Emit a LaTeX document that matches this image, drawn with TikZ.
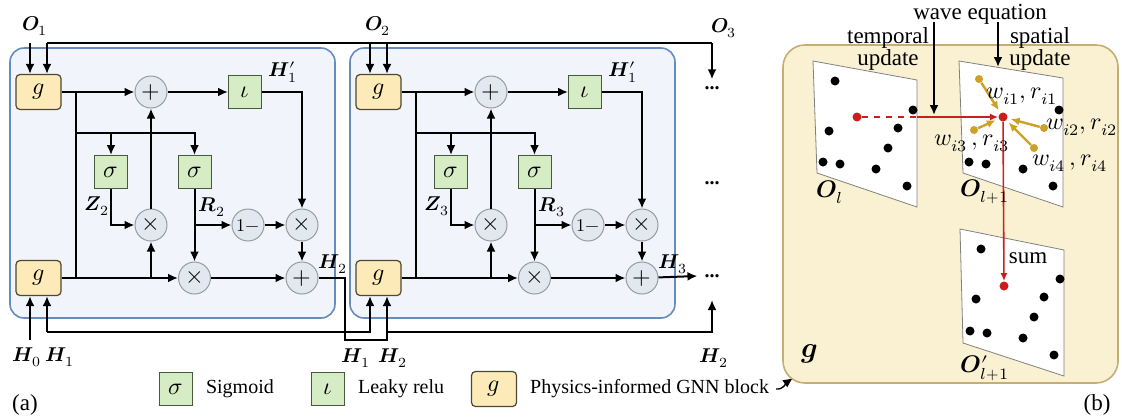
\documentclass[tikz,border=0pt]{standalone}
\usepackage{fontspec}
\usepackage{unicode-math}
\setmainfont{Liberation Serif}
\newfontfamily\scrA{DejaVu Sans}
\newcommand{\gnnsym}{\mbox{\scrA\iffontchar\font"210A ℊ\else\large$g$\fi}}
\usetikzlibrary{arrows.meta,positioning}

\definecolor{cellblue}{RGB}{102,140,190}
\definecolor{cellfill}{RGB}{241,245,251}
\definecolor{gatefill}{RGB}{213,236,196}
\definecolor{gatedraw}{RGB}{70,90,60}
\definecolor{gnnfill}{RGB}{252,234,184}
\definecolor{gnndraw}{RGB}{80,70,50}
\definecolor{opfill}{RGB}{226,232,240}
\definecolor{opdraw}{RGB}{150,155,160}
\definecolor{panelfill}{RGB}{249,241,210}
\definecolor{paneldraw}{RGB}{195,175,115}
\definecolor{wavered}{RGB}{205,30,30}
\definecolor{nbgold}{RGB}{205,160,40}

\tikzset{
  arr/.style={line width=1pt,-{Latex[length=5pt,width=4.5pt]}},
  wire/.style={line width=1pt},
  gnn/.style={draw=gnndraw,fill=gnnfill,rounded corners=2pt,minimum width=22.5pt,
    minimum height=17.5pt,inner sep=0pt,line width=0.6pt},
  gate/.style={draw=gatedraw,fill=gatefill,minimum size=16.5pt,inner sep=0pt,line width=0.5pt},
  op/.style={circle,draw=opdraw,fill=opfill,minimum size=16pt,inner sep=0pt,line width=0.5pt},
  cell/.style={draw=cellblue,fill=cellfill,rounded corners=7pt,line width=0.8pt},
  panel/.style={draw=paneldraw,fill=panelfill,rounded corners=11pt,line width=0.8pt},
  plane/.style={draw=gray,fill=white,line width=0.4pt},
  pt/.style={circle,fill=black,inner sep=0pt,minimum size=4.5pt},
  reddot/.style={circle,fill=wavered,inner sep=0pt,minimum size=4.5pt},
  golddot/.style={circle,fill=nbgold,inner sep=0pt,minimum size=4pt},
  redarr/.style={draw=wavered,line width=0.8pt,-{Latex[length=4pt,width=3.5pt]}},
  goldarr/.style={draw=nbgold,line width=1.2pt,-{Latex[length=4.5pt,width=4pt]},shorten >=1.5pt},
  big/.style={font=\fontsize{11.5}{9}\selectfont},
  lbl/.style={inner sep=1pt},
}

\begin{document}
\begin{tikzpicture}[x=0.5pt,y=-0.5pt]
  \useasboundingbox (0,0) rectangle (1122,419);

  % the two recurrent cells
  \foreach \k/\dx/\n in {1/0/2,2/340/3}{
    \begin{scope}[shift={(\dx,0)}]
      \draw[cell] (10,48) rectangle (335,318);
      \node[gnn]  (gt\k) at (38.5,92)  {\gnnsym};
      \node[gnn]  (gb\k) at (38.5,278) {\gnnsym};
      \node[op]   (pl\k) at (151,92)   {\large$+$};
      \node[gate] (lr\k) at (245,92)   {\large$\iota$};
      \node[gate] (sz\k) at (111,172)  {\large$\sigma$};
      \node[gate] (sr\k) at (194.5,172) {\large$\sigma$};
      \node[op]   (mz\k) at (151,225)  {\large$\times$};
      \node[op]   (om\k) at (248,225)  {\small$1-$};
      \node[op]   (mr\k) at (302,225)  {\large$\times$};
      \node[op]   (mb\k) at (194.5,278) {\large$\times$};
      \node[op]   (pb\k) at (302,278)  {\large$+$};
      \coordinate (jt\k) at (76,92);
      \coordinate (jb\k) at (76,278);
      \coordinate (js\k) at (76,133);
      \coordinate (jz\k) at (151,278);
      \coordinate (jr\k) at (194.5,225);
      % gate wiring
      \draw[arr] (gt\k) -- (pl\k);
      \draw[arr] (pl\k) -- (lr\k);
      \draw[arr] (lr\k.east) -| (mr\k.north);
      \draw[wire] (jt\k) -- (jb\k);
      \draw[arr] (js\k) -| (sz\k.north);
      \draw[arr] (js\k) -| (sr\k.north);
      \draw[arr] (sz\k.south) |- (mz\k.west);
      \draw[arr] (mz\k) -- (pl\k);
      \draw[arr] (jz\k) -- (mz\k);
      \draw[arr] (sr\k) -- (mb\k);
      \draw[arr] (jr\k) -- (om\k);
      \draw[arr] (om\k) -- (mr\k);
      \draw[arr] (mr\k) -- (pb\k);
      \draw[arr] (gb\k) -- (mb\k);
      \draw[arr] (mb\k) -- (pb\k);
      \node[lbl] (hp\k) at (283,72)  {$\symbfit{H}_1'$};
      \node[lbl] (z\k)  at (97,206)  {$\symbfit{Z}_\n$};
      \node[lbl] (r\k)  at (212,207) {$\symbfit{R}_\n$};
      \node[lbl] (ho\k) at (333,264) {$\symbfit{H}_\n$};
      \coordinate (gt\k l) at ([xshift=-4.25pt]gt\k.north);
      \coordinate (gt\k r) at ([xshift=4.25pt]gt\k.north);
      \coordinate (gb\k l) at ([xshift=-4.25pt]gb\k.south);
      \coordinate (gb\k r) at ([xshift=4.25pt]gb\k.south);
    \end{scope}
  }

  % inputs on top
  \coordinate (tb) at (0,43);
  \node (o1) at (35,26)  {$\symbfit{O}_1$};
  \node (o2) at (378,26) {$\symbfit{O}_2$};
  \node (o3) at (724,28) {$\symbfit{O}_3$};
  \coordinate (o3a) at (712,43);
  \node (d1) at (712,88)  {\textbf{...}};
  \node (d2) at (712,183) {\textbf{...}};
  \node (d3) at (712,276) {\textbf{...}};
  \draw[arr] (gt1l |- o1.south) -- (gt1l);
  \draw[arr] (gt2l |- o2.south) -- (gt2l);
  \draw[wire] (gt1r |- tb) -- (o3a);
  \draw[arr] (gt1r |- tb) -- (gt1r);
  \draw[arr] (gt2r |- tb) -- (gt2r);
  \draw[arr] (o3a) -- (d1.north);

  % hidden states below
  \coordinate (lb) at (0,332);
  \coordinate (k1) at (345,340);
  \coordinate (e3) at (712,300);
  \node (h0)  at (27,357)  {$\symbfit{H}_0$};
  \node (h1)  at (60,357)  {$\symbfit{H}_1$};
  \node (h1b) at (356,358) {$\symbfit{H}_1$};
  \node (h2b) at (393,358) {$\symbfit{H}_2$};
  \node (h2r) at (714,358) {$\symbfit{H}_2$};
  \draw[arr] (gb1l |- h0.north) -- (gb1l);
  \draw[arr] (gb1r |- lb) -- (gb1r);
  \draw[arr] (gb1r |- lb) -| (gb2l);
  \draw[arr] (pb1) -| (k1) -| (gb2r);
  \draw[arr] (gb2r |- lb) -| (e3);
  \draw[arr] (pb2) -- (d3.west);

  % legend
  \node[gate] (lsig) at (176,389) {\large$\sigma$};
  \node[right=3pt of lsig] (tsig) {Sigmoid};
  \node[gate] (lrel) at (328,389) {\large$\iota$};
  \node[right=3pt of lrel] (trel) {Leaky relu};
  \node[gnn]  (lgnn) at (494,389) {\gnnsym};
  \node[right=3pt of lgnn] (tgnn) {Physics-informed GNN block};
  \coordinate (pc) at (793,378);
  \draw[line width=0.7pt,-{Latex[length=5pt,width=4.5pt]}] (tgnn.east) to[out=-5,in=215] (pc);
  \node[big] (la) at (25,405) {(a)};
  \node[big] (lb2) at (1097,405) {(b)};

  % the GNN block
  \draw[panel] (783,45) rectangle (1118,383);
  \draw[plane] (813,61) -- (917,80) -- (917,207) -- (817,173) -- cycle;
  \draw[plane] (959,61) -- (1063,78) -- (1063,207) -- (963,173) -- cycle;
  \draw[plane] (960,229) -- (1064,250) -- (1064,376) -- (963,343) -- cycle;
  \foreach \p in {(835,81),(913,110),(829,131),(898,128),(888,148),(823,162),(840,164),(876,169),(907,186),
                  (1059,110),(969,162),(986,164),(1023,169),(1053,186),
                  (981,249),(1060,279),(976,299),(1044,297),(1034,317),(970,331),(987,333),(1023,338),(1054,355)}
    \node[pt] at \p {};
  \node[reddot] (ra) at (857,117) {};
  \node[reddot] (rb) at (1003,117) {};
  \node[reddot] (rc) at (1004,286) {};
  \coordinate (kd) at (917,117);
  \draw[draw=wavered,line width=0.8pt,dashed] (ra) -- (kd);
  \draw[redarr] (kd) -- (rb);
  \draw[redarr] (rb) -- (rc);
  % neighbours
  \node[golddot] (n1) at (979,79) {};
  \node[golddot] (n2) at (1044,128) {};
  \node[golddot] (n3) at (974,130) {};
  \node[golddot] (n4) at (1034,148) {};
  \foreach \m in {n1,n2,n3,n4}
    \draw[goldarr] (\m) -- (rb);
  \node[big,lbl] (w1) at (1022,96)  {\large$w_{i1}, r_{i1}$};
  \node[big,lbl] (w2) at (1082,127) {\large$w_{i2}, r_{i2}$};
  \node[big,lbl] (w3) at (972,143)  {\large$w_{i3}\,, r_{i3}$};
  \node[big,lbl] (w4) at (1070,163) {\large$w_{i4}\,, r_{i4}$};
  \node[lbl] (ol)  at (830,192) {\large$\symbfit{O}_l$};
  \node[lbl] (ol1) at (985,192) {\large$\symbfit{O}_{l+1}$};
  \node[lbl] (ol2) at (985,368) {\large$\symbfit{O}_{l+1}'$};
  \node[big] (sum) at (1028,258) {sum};
  \node (gl) at (810,354) {\Large$\symbfit{g}$};
  % update labels
  \node[big] (wave) at (980,14) {wave equation};
  \node[big,align=center] (tu) at (888,49) {temporal\\update};
  \node[big,align=center] (su) at (1040,49) {spatial\\update};
  \coordinate (wa) at (934,22);
  \coordinate (wb) at (934,115);
  \coordinate (wc) at (998,22);
  \coordinate (wd) at (998,67);
  \draw[arr] (wa) -- (wb);
  \draw[arr] (wc) -- (wd);
\end{tikzpicture}
\end{document}
